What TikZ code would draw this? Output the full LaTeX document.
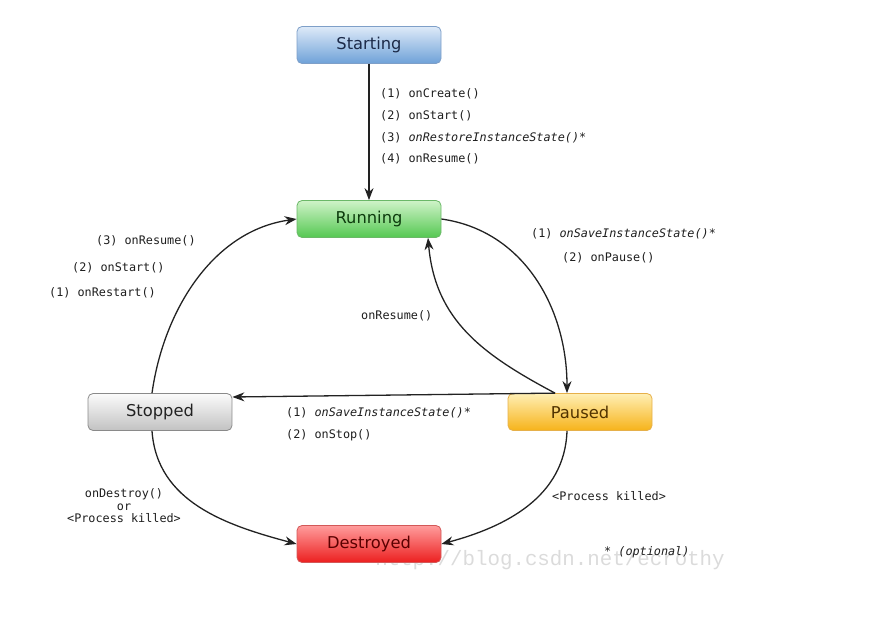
\documentclass[tikz,border=0pt]{standalone}
\usepackage{fontspec}
\setmainfont{DejaVu Sans}
\setmonofont{DejaVu Sans Mono}
\newfontfamily\markfont{Liberation Mono}
\usepackage{xcolor}
\usepackage{tikz}
\usetikzlibrary{arrows.meta}
\usetikzlibrary{positioning}

\definecolor{startTop}{HTML}{DDEAF8}
\definecolor{startBot}{HTML}{6FA1D8}
\definecolor{startLine}{HTML}{7E9FC8}
\definecolor{runTop}{HTML}{CFF3C8}
\definecolor{runBot}{HTML}{55C852}
\definecolor{runLine}{HTML}{6BB868}
\definecolor{pauseTop}{HTML}{FFEFB4}
\definecolor{pauseBot}{HTML}{F6B31A}
\definecolor{pauseLine}{HTML}{E6B04A}
\definecolor{stopTop}{HTML}{FBFBFB}
\definecolor{stopBot}{HTML}{C2C2C2}
\definecolor{stopLine}{HTML}{8A8A8A}
\definecolor{destTop}{HTML}{FF9C9C}
\definecolor{destBot}{HTML}{EC1F1F}
\definecolor{destLine}{HTML}{D25858}
\definecolor{arrowGray}{HTML}{222222}
\definecolor{callGray}{HTML}{1E1E1E}

\begin{document}
\begin{tikzpicture}[x=1pt,y=1pt,
	state/.style={draw, line width=0.8pt, rounded corners=5pt, minimum width=144pt, minimum height=37pt, inner sep=0pt, font=\fontsize{16.3}{18}\selectfont},
	flow/.style={draw=arrowGray, line width=1.3pt, -{Stealth[length=12pt,width=9pt]}},
	call/.style={font=\ttfamily\fontsize{11.8}{13}\selectfont, text=callGray, inner sep=0pt, anchor=west}]
	\useasboundingbox (0,0) rectangle (875,-619);

	% watermark, under everything
	\node[inner sep=0pt, text=gray!28, font=\markfont\fontsize{20.8}{22}\selectfont] (watermark) at (550,-560) {http://blog.csdn.net/ecrothy};

	% the five states
	\node[state, draw=startLine, top color=startTop, bottom color=startBot, text={rgb,255:red,28;green,42;blue,72}] (starting) at (369,-45) {Starting};
	\node[state, draw=runLine, top color=runTop, bottom color=runBot, text={rgb,255:red,14;green,60;blue,14}] (running) at (369,-219) {Running};
	\node[state, draw=pauseLine, top color=pauseTop, bottom color=pauseBot, text={rgb,255:red,80;green,50;blue,0}] (paused) at (580,-412) {Paused};
	\node[state, draw=stopLine, top color=stopTop, bottom color=stopBot, text={rgb,255:red,34;green,34;blue,34}] (stopped) at (160,-412) {Stopped};
	\node[state, draw=destLine, top color=destTop, bottom color=destBot, text={rgb,255:red,90;green,0;blue,0}] (destroyed) at (369,-544) {Destroyed};

	% transitions
	\draw[flow] (starting) -- (running);
	\draw[flow] (running.east) to[out=-8, in=90] ([xshift=-13pt]paused.north);
	\draw[flow] ([xshift=-25pt]paused.north) to[out=152, in=-85, looseness=1.05] ([xshift=59pt]running.south);
	\draw[flow] ([xshift=-25pt]paused.north) -- ([yshift=15pt]stopped.east);
	\draw[flow] ([xshift=-8pt]stopped.north) to[out=82, in=188, looseness=0.95] (running.west);
	\draw[flow] ([xshift=-8pt]stopped.south) to[out=-86, in=165] (destroyed.west);
	\draw[flow] ([xshift=-13pt]paused.south) to[out=-92, in=15] (destroyed.east);

	% callbacks
	\node[call, align=left, font=\ttfamily\fontsize{11.8}{21.7}\selectfont] (createCalls) at (380,-126.5) {(1) onCreate()\\(2) onStart()\\(3) \textit{onRestoreInstanceState()*}\\(4) onResume()};
	\node[call] (restartThree) at (96,-241) {(3) onResume()};
	\node[call] (restartTwo) at (72,-268) {(2) onStart()};
	\node[call] (restartOne) at (49,-293) {(1) onRestart()};
	\node[call] (pauseOne) at (531,-234) {(1) \textit{onSaveInstanceState()*}};
	\node[call] (pauseTwo) at (562,-258) {(2) onPause()};
	\node[call] (resumeCall) at (361,-316) {onResume()};
	\node[call, align=left, font=\ttfamily\fontsize{11.8}{22}\selectfont] (stopCalls) at (286,-424) {(1) \textit{onSaveInstanceState()*}\\(2) onStop()};
	\node[call, anchor=center, align=center, font=\ttfamily\fontsize{11.8}{12.5}\selectfont] (destroyCalls) at (124,-506) {onDestroy()\\or\\<Process killed>};
	\node[call] (killCall) at (552,-496) {<Process killed>};
	\node[call] (optional) at (604,-552) {* \textit{(optional)}};
\end{tikzpicture}
\end{document}
